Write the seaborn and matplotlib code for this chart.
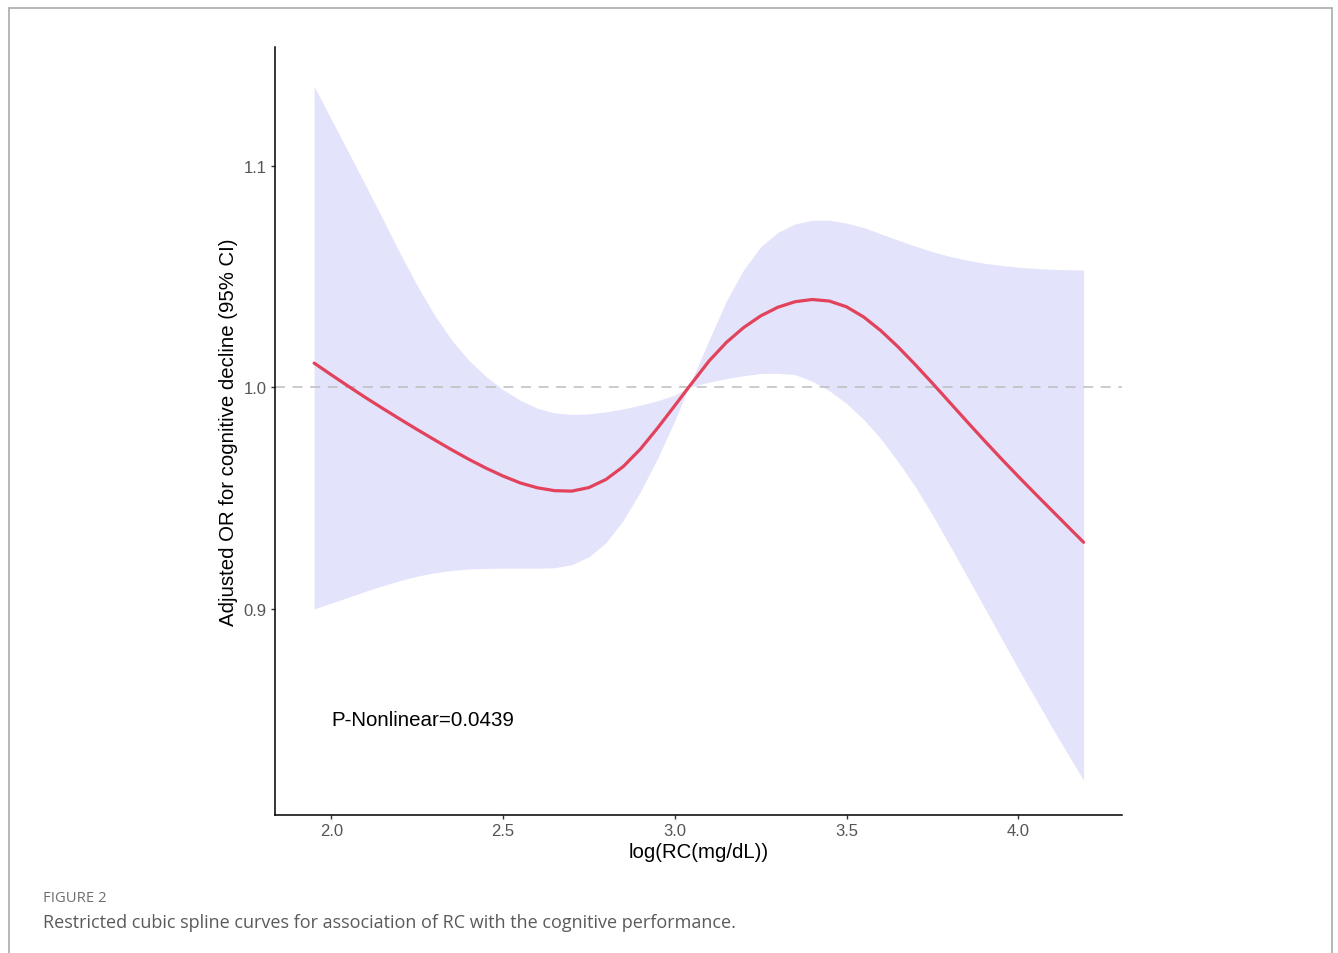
import matplotlib.pyplot as plt
from matplotlib.lines import Line2D
import pandas as pd
import seaborn as sns

log_rc = [1.95, 2.00, 2.05, 2.10, 2.15, 2.20, 2.25, 2.30, 2.35, 2.40, 2.45, 2.50,
          2.55, 2.60, 2.65, 2.70, 2.75, 2.80, 2.85, 2.90, 2.95, 3.00, 3.04, 3.10,
          3.15, 3.20, 3.25, 3.30, 3.35, 3.40, 3.45, 3.50, 3.55, 3.60, 3.65, 3.70,
          3.75, 3.80, 3.85, 3.90, 3.95, 4.00, 4.05, 4.10, 4.15, 4.19]
or_fit = [1.0110, 1.0057, 1.0005, 0.9954, 0.9905, 0.9857, 0.9810, 0.9764, 0.9719, 0.9676,
          0.9636, 0.9600, 0.9569, 0.9547, 0.9534, 0.9532, 0.9548, 0.9585, 0.9643, 0.9722,
          0.9817, 0.9918, 1.0000, 1.0120, 1.0203, 1.0270, 1.0323, 1.0362, 1.0387, 1.0397,
          1.0390, 1.0364, 1.0318, 1.0256, 1.0183, 1.0103, 1.0019, 0.9933, 0.9847, 0.9762,
          0.9679, 0.9598, 0.9519, 0.9441, 0.9363, 0.9301]
or_upper = [1.1360, 1.1210, 1.1062, 1.0912, 1.0760, 1.0606, 1.0460, 1.0328, 1.0215, 1.0123,
            1.0050, 0.9990, 0.9942, 0.9906, 0.9885, 0.9878, 0.9881, 0.9890, 0.9903, 0.9920,
            0.9940, 0.9966, 1.0000, 1.0215, 1.0390, 1.0530, 1.0635, 1.0700, 1.0738, 1.0755,
            1.0755, 1.0742, 1.0722, 1.0693, 1.0665, 1.0638, 1.0613, 1.0592, 1.0575, 1.0561,
            1.0551, 1.0543, 1.0537, 1.0533, 1.0531, 1.0530]
or_lower = [0.9000, 0.9027, 0.9053, 0.9080, 0.9105, 0.9128, 0.9148, 0.9163, 0.9174, 0.9180,
            0.9183, 0.9184, 0.9184, 0.9184, 0.9186, 0.9200, 0.9235, 0.9300, 0.9400, 0.9530,
            0.9680, 0.9850, 1.0000, 1.0024, 1.0040, 1.0053, 1.0063, 1.0064, 1.0058, 1.0028,
            0.9985, 0.9928, 0.9855, 0.9768, 0.9665, 0.9552, 0.9425, 0.9288, 0.9150, 0.9010,
            0.8870, 0.8730, 0.8595, 0.8460, 0.8330, 0.8226]

x_ticks = [2.0, 2.5, 3.0, 3.5, 4.0]
y_ticks = [0.9, 1.0, 1.1]
p_text = "P-Nonlinear=0.0439"

df = pd.DataFrame({"log_rc": log_rc, "or_fit": or_fit,
                   "or_lower": or_lower, "or_upper": or_upper})

sns.set_theme(style="ticks")
plt.rcParams['font.family'] = ['Liberation Sans', 'DejaVu Sans']

fig = plt.figure(figsize=(13.38, 9.54), dpi=100)
ax = fig.add_axes([0.2055, 0.1447, 0.6331, 0.805])

# CI band, reference line, fitted curve
ax.fill_between(df["log_rc"], df["or_lower"], df["or_upper"], color="#E3E3FB", lw=0, zorder=1)
ax.axhline(1.0, color="#BDBDBD", ls=(0, (6.5, 5)), lw=1.1, zorder=2)
sns.lineplot(data=df, x="log_rc", y="or_fit", color="#E2425B", lw=2.3, ax=ax, zorder=3)

ax.text(2.0, 0.85, p_text, ha="left", va="center", fontsize=14.8, color="black")

ax.set_xlim(1.836, 4.302)
ax.set_ylim(0.807, 1.1537)
ax.set_xticks(x_ticks)
ax.set_xticklabels([f"{v:.1f}" for v in x_ticks])
ax.set_yticks(y_ticks)
ax.set_yticklabels([f"{v:.1f}" for v in y_ticks])
ax.tick_params(axis="both", length=3, width=1, color="#333333", labelcolor="#555555",
               labelsize=12, pad=3)

ax.set_xlabel("log(RC(mg/dL))", fontsize=14.7, color="black", labelpad=3)
ax.set_ylabel("Adjusted OR for cognitive decline (95% CI)", fontsize=14.7, color="black", labelpad=4)

sns.despine(ax=ax)
for side in ["left", "bottom"]:
    ax.spines[side].set_linewidth(1.1)
    ax.spines[side].set_color("black")

# page frame + caption
W, H = 1338, 954
frame_kw = dict(transform=fig.transFigure, color="#AAAAAA", lw=1.2)
fig.add_artist(Line2D([9 / W, 9 / W], [0, 1 - 9 / H], **frame_kw))
fig.add_artist(Line2D([9 / W, 1332 / W], [1 - 9 / H, 1 - 9 / H], **frame_kw))
fig.add_artist(Line2D([1332 / W, 1332 / W], [0, 1 - 9 / H], **frame_kw))

fig.text(43 / W, 1 - 899 / H, "FIGURE 2", va="center", ha="left", fontsize=10.7,
         color="#6F6F6F", family=["Open Sans", "DejaVu Sans"])
fig.text(43 / W, 1 - 923 / H,
         "Restricted cubic spline curves for association of RC with the cognitive performance.",
         va="center", ha="left", fontsize=13, color="#5A5A5A", family=["Open Sans", "DejaVu Sans"])

fig.savefig("out.png", dpi=100)
